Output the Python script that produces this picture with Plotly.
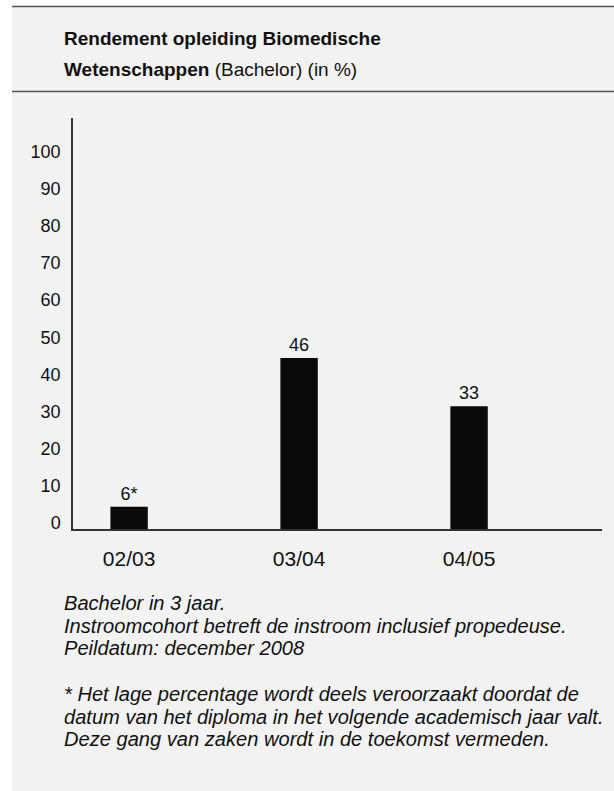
import plotly.graph_objects as go

# Cohorts and completion rate (bachelor in 3 years, %)
cohorts = ["02/03", "03/04", "04/05"]
rendement = [6, 46, 33]
markers = ["*", "", ""]
y_ticks = [0, 10, 20, 30, 40, 50, 60, 70, 80, 90, 100]

title_bold = ["Rendement opleiding Biomedische", "Wetenschappen"]
title_rest = ["", " (Bachelor) (in %)"]
notes = [
    "Bachelor in 3 jaar.",
    "Instroomcohort betreft de instroom inclusief propedeuse.",
    "Peildatum: december 2008",
    "* Het lage percentage wordt deels veroorzaakt doordat de",
    "datum van het diploma in het volgende academisch jaar valt.",
    "Deze gang van zaken wordt in de toekomst vermeden.",
]

W, H = 614, 791
PL, PR, PT, PB = 73, 602, 118, 529
FONT = "Liberation Sans, Arial, sans-serif"
PANEL = "#f2f2f2"
RULE = "#555555"


def fx(px):
    return (px - PL) / (PR - PL)


def fy(py):
    return (PB - py) / (PB - PT)


labels = [f"{v}{m}" for v, m in zip(rendement, markers)]

fig = go.Figure(
    go.Bar(
        x=cohorts,
        y=rendement,
        text=labels,
        textposition="outside",
        textfont=dict(family=FONT, size=18, color="#111111"),
        marker=dict(color="#0a0a0a", line=dict(width=0)),
        width=0.22,
        cliponaxis=False,
        hoverinfo="skip",
    )
)

shapes = [
    # grey panel behind the whole figure
    dict(type="rect", xref="paper", yref="paper",
         x0=fx(12), x1=fx(W + 2), y0=fy(6.5), y1=fy(H + 2),
         fillcolor=PANEL, line=dict(width=0), layer="below"),
    # rules above and below the title block
    dict(type="line", xref="paper", yref="paper",
         x0=fx(12), x1=fx(W), y0=fy(6.5), y1=fy(6.5),
         line=dict(color=RULE, width=1.5)),
    dict(type="line", xref="paper", yref="paper",
         x0=fx(12), x1=fx(W), y0=fy(91.5), y1=fy(91.5),
         line=dict(color=RULE, width=1.5)),
]

annotations = []
for i, (b, r) in enumerate(zip(title_bold, title_rest)):
    annotations.append(dict(
        xref="paper", yref="paper", x=fx(62), y=fy(39 + 31 * i),
        xanchor="left", yanchor="middle", showarrow=False,
        text=f"<b>{b}</b>{r}",
        font=dict(family=FONT, size=19, color="#111111"),
    ))

note_y = [603, 626, 648, 694, 717, 739]
for t, py in zip(notes, note_y):
    annotations.append(dict(
        xref="paper", yref="paper", x=fx(62), y=fy(py),
        xanchor="left", yanchor="middle", showarrow=False,
        text=f"<i>{t}</i>",
        font=dict(family=FONT, size=20.1, color="#111111"),
    ))

fig.update_layout(
    width=W, height=H,
    margin=dict(l=PL, r=W - PR, t=PT, b=H - PB, pad=0),
    paper_bgcolor="white",
    plot_bgcolor="rgba(0,0,0,0)",
    showlegend=False,
    shapes=shapes,
    annotations=annotations,
    xaxis=dict(
        type="category",
        range=[-0.33, 2.782],
        showline=True, linecolor="#333333", linewidth=1.5,
        showgrid=False, zeroline=False,
        ticks="", ticklabelstandoff=10,
        tickfont=dict(family=FONT, size=21, color="#111111"),
    ),
    yaxis=dict(
        range=[0, 110.6],
        tickmode="array", tickvals=y_ticks,
        showline=True, linecolor="#333333", linewidth=1.5,
        showgrid=False, zeroline=False,
        ticks="", ticklabelstandoff=7, ticklabelshift=-6,
        tickfont=dict(family=FONT, size=18, color="#111111"),
    ),
    font=dict(family=FONT),
)

fig.write_html("out.html")
